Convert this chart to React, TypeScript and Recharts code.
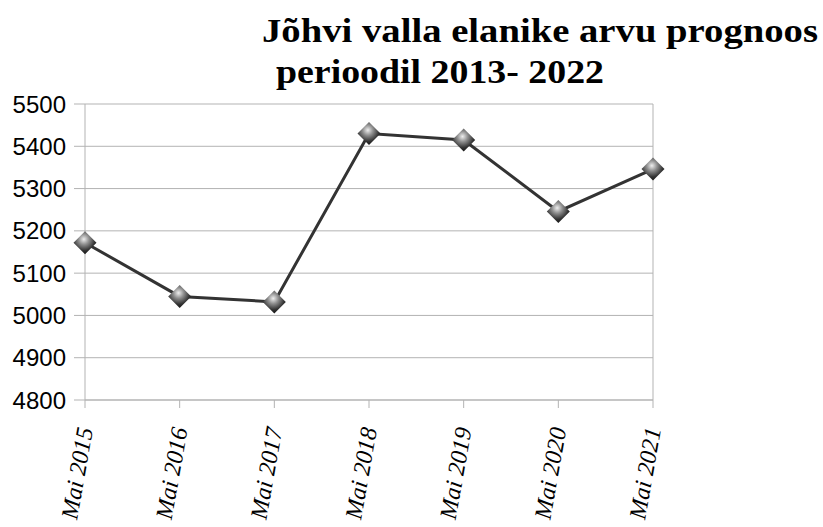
import React from "react";
import { LineChart, Line, XAxis, YAxis, CartesianGrid, ReferenceLine } from "recharts";

/* ─── Data ─── */

const MONTHS = ["Mai 2015", "Mai 2016", "Mai 2017", "Mai 2018", "Mai 2019", "Mai 2020", "Mai 2021"];
const RESIDENTS = [5172, 5045, 5032, 5430, 5415, 5246, 5346];
const Y_TICKS = [4800, 4900, 5000, 5100, 5200, 5300, 5400, 5500];
const TITLE_LINES = ["Jõhvi valla elanike arvu prognoos", " perioodil 2013- 2022"];

const GRID = "#b3b3b3";
const SERIF = "'Liberation Serif', 'Times New Roman', serif";
const SANS = "'Liberation Sans', Arial, sans-serif";

const data = MONTHS.map((m, i) => ({ month: m, value: RESIDENTS[i] }));

/* Shaded diamond marker */
function DiamondDot(props: any) {
  const { cx, cy } = props;
  if (cx == null || cy == null) return null;
  const r = 11.5;
  return (
    <polygon
      points={`${cx},${cy - r} ${cx + r},${cy} ${cx},${cy + r} ${cx - r},${cy}`}
      fill="url(#diamondShade)"
    />
  );
}

/* Rotated italic category label */
function MonthTick(props: any) {
  const { x, y, payload } = props;
  const ax = x + 8;
  const ay = y + 19;
  return (
    <text
      x={ax}
      y={ay}
      transform={`rotate(-80, ${ax}, ${ay})`}
      textAnchor="end"
      fontFamily={SERIF}
      fontStyle="italic"
      fontSize={24}
      fill="#000"
    >
      {payload.value}
    </text>
  );
}

export default function App() {
  return (
    <div style={{ position: "absolute", left: 0, top: 0, width: 823, height: 527, background: "#fff" }}>
      <LineChart width={823} height={527} data={data} margin={{ top: 104, right: 170, left: 0, bottom: 0 }}>
        <defs>
          <radialGradient id="diamondShade" cx="45%" cy="35%" r="65%">
            <stop offset="0%" stopColor="#eeeeee" />
            <stop offset="35%" stopColor="#8f8f8f" />
            <stop offset="75%" stopColor="#333333" />
            <stop offset="100%" stopColor="#151515" />
          </radialGradient>
        </defs>
        <CartesianGrid vertical={false} stroke={GRID} strokeWidth={1} />
        <XAxis
          dataKey="month"
          height={127}
          interval={0}
          tick={<MonthTick />}
          tickSize={8}
          axisLine={{ stroke: GRID }}
          tickLine={{ stroke: GRID }}
        />
        <YAxis
          width={85}
          domain={[4800, 5500]}
          ticks={Y_TICKS}
          interval={0}
          tickSize={11}
          tickMargin={8}
          axisLine={{ stroke: GRID }}
          tickLine={{ stroke: GRID }}
          tick={{ fill: "#000", fontSize: 24, fontFamily: SANS }}
        />
        <ReferenceLine x="Mai 2021" stroke={GRID} />
        <Line
          type="linear"
          dataKey="value"
          stroke="#333333"
          strokeWidth={3}
          dot={<DiamondDot />}
          activeDot={false}
          isAnimationActive={false}
        />
      </LineChart>
      <svg width={823} height={110} style={{ position: "absolute", left: 0, top: 0 }}>
        <text
          x={262}
          y={42}
          fontFamily={SERIF}
          fontWeight="bold"
          fontSize={34}
          fill="#000"
          textLength={556}
          lengthAdjust="spacingAndGlyphs"
        >
          {TITLE_LINES[0]}
        </text>
        <text
          x={276}
          y={83}
          fontFamily={SERIF}
          fontWeight="bold"
          fontSize={34}
          fill="#000"
          textLength={328}
          lengthAdjust="spacingAndGlyphs"
        >
          {TITLE_LINES[1].trim()}
        </text>
      </svg>
    </div>
  );
}
